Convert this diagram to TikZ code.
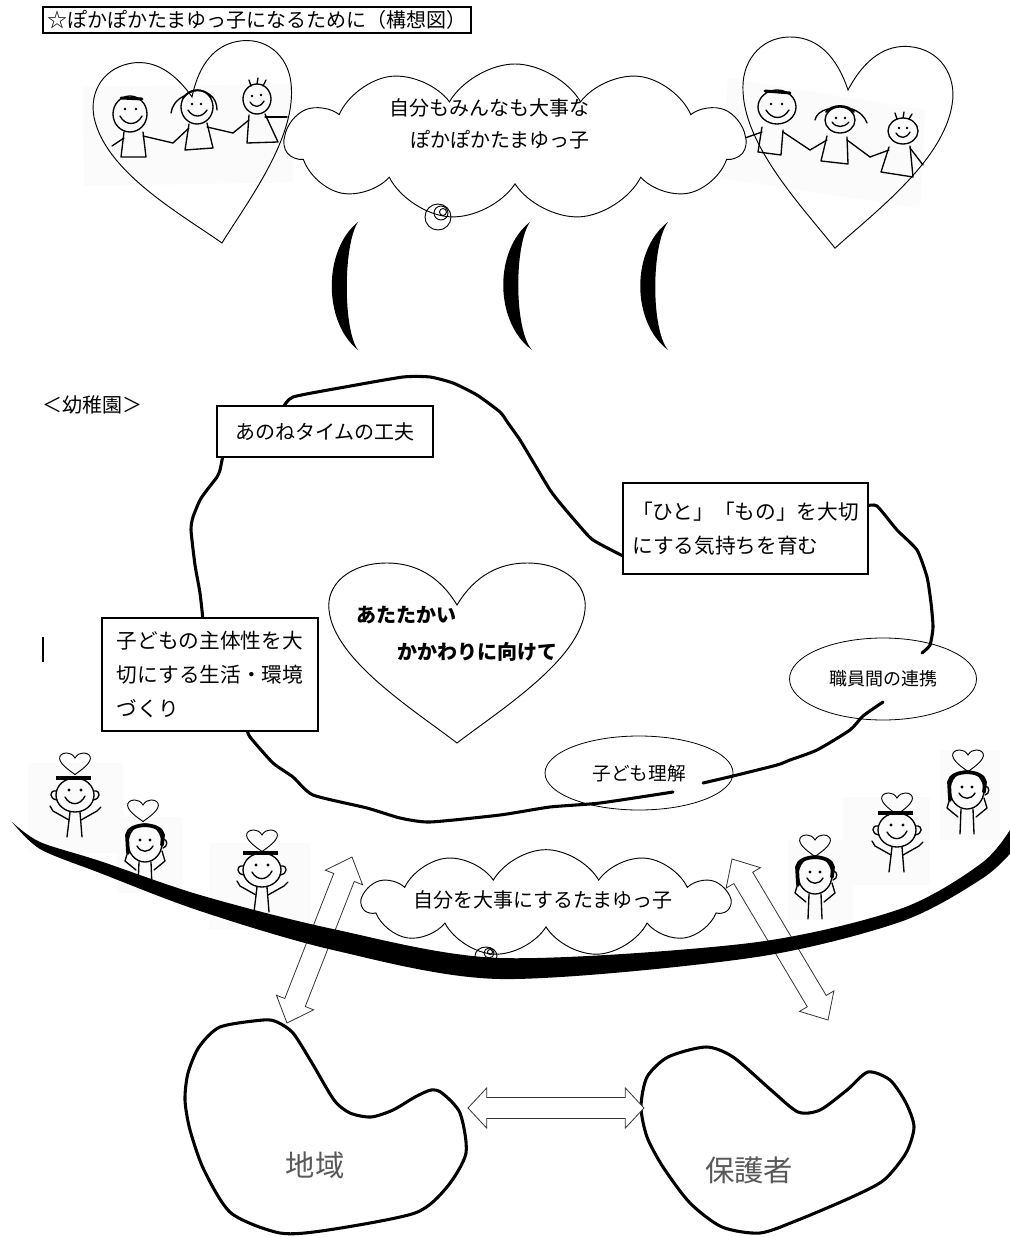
\documentclass[tikz,border=0pt]{standalone}
\usepackage{fontspec}
\setmainfont{Noto Sans CJK JP}
\usetikzlibrary{calc,shapes.symbols,shapes.geometric}

% hollow double-headed block arrow: #1,#2 tips, #3 head length, #4 head half-width, #5 shaft half-width
\newcommand\hollowdbl[5]{%
  \draw[hollowarrow] (#1)
    -- ($(#1)!#3!(#2)!#4!90:(#2)$)
    -- ($(#1)!#3!(#2)!#5!90:(#2)$)
    -- ($(#2)!#3!(#1)!#5!-90:(#1)$)
    -- ($(#2)!#3!(#1)!#4!-90:(#1)$)
    -- (#2)
    -- ($(#2)!#3!(#1)!#4!90:(#1)$)
    -- ($(#2)!#3!(#1)!#5!90:(#1)$)
    -- ($(#1)!#3!(#2)!#5!-90:(#2)$)
    -- ($(#1)!#3!(#2)!#4!-90:(#2)$)
    -- cycle;}

\tikzset{
  blobline/.style={line width=2.3pt, line join=round, line cap=round},
  boxnode/.style={draw, line width=0.8pt, fill=white, inner sep=0pt},
  ovalnode/.style={draw, ellipse, line width=0.6pt, inner sep=0pt},
  hollowarrow/.style={draw=black!80, fill=white, line width=0.6pt, line join=miter},
  heartline/.style={line width=0.7pt},
  kidline/.style={line width=1pt, line cap=round, line join=round},
  patch/.style={fill=black!1.5},
  jp/.style={font=\fontsize{15pt}{25pt}\selectfont},
  jpbox/.style={font=\fontsize{15.5pt}{25.5pt}\selectfont},
  jpsmall/.style={font=\fontsize{13.5pt}{18pt}\selectfont},
  jpbold/.style={font=\fontsize{15pt}{20pt}\selectfont\bfseries},
  jpbig/.style={font=\fontsize{22pt}{26pt}\selectfont, text=black!65},
  % heart outline, origin at the top notch, pointing down
  heartpic/.pic={
    \path[pic actions] (0,0) .. controls (18,-30) and (43,-42) .. (70,-42)
      .. controls (108,-42) and (131,-20) .. (128,5)
      .. controls (123,55) and (43,105) .. (0,138)
      .. controls (-43,105) and (-123,55) .. (-128,5)
      .. controls (-131,-20) and (-108,-42) .. (-70,-42)
      .. controls (-43,-42) and (-18,-30) .. (0,0) -- cycle;
  },
  % boy waving, origin at the centre of the head
  boywave/.pic={
    \draw[kidline] (0,0) ellipse (19 and 17);
    \draw[kidline] (-19,-4) .. controls (-26,-5) and (-26,4) .. (-18,5);
    \draw[kidline] (19,-4) .. controls (26,-5) and (26,4) .. (18,5);
    \draw[line width=2.6pt] (-19,-17) -- (16,-17);
    \fill (-6,-5) circle (1.7) (6,-5) circle (1.7);
    \draw[kidline] (-10,2) .. controls (-5,11) and (5,11) .. (10,1);
    \draw[kidline] (-5,17) -- (-8,42) (5,17) -- (7,42);
    \draw[kidline] (-6,25) -- (-22,16) -- (-25,11) (6,25) -- (22,16) -- (26,12);
  },
  % girl holding her cheeks, origin at the centre of the head
  girlhold/.pic={
    \draw[kidline] (0,0) ellipse (17 and 19);
    \draw[line width=2.8pt, line cap=round] (-17,10) -- (-18,-8) .. controls (-16,-21) and (16,-21) .. (18,-8) -- (17,2);
    \draw[kidline] (18,-4) .. controls (23,-4) and (23,4) .. (18,5);
    \fill (-5,-3) circle (1.7) (5,-3) circle (1.7);
    \draw[kidline] (-8,3) .. controls (-4,10) and (4,10) .. (8,3);
    \draw[kidline] (-17,8) -- (-20,18) -- (-9,27) (17,8) -- (20,18) -- (9,27);
    \draw[kidline] (-6,19) -- (-7,44) (6,19) -- (7,44);
  },
}

\begin{document}
\begin{tikzpicture}[x=0.75pt,y=-0.75pt]
\useasboundingbox (0,0) rectangle (1009,1237);
\fill[white] (0,0) rectangle (1009,1237);

% ---------- title ----------
\node[boxnode, jp, minimum width=321pt, minimum height=19.5pt] (title) at (257,20)
  {☆ぽかぽかたまゆっ子になるために（構想図）};

% ---------- top hearts with children holding hands ----------
\fill[patch] (83,87) -- (292,84) -- (293,182) -- (84,186) -- cycle;
\fill[patch] (728,78) -- (925,110) -- (920,208) -- (720,178) -- cycle;
\pic[draw, heartline, rotate=11.6, xscale=0.78, yscale=1.08] at (192,97) {heartpic};
\pic[draw, heartline, rotate=-4.7, xscale=0.82, yscale=1.15] at (848,90) {heartpic};

% left heart children
\begin{scope}[kidline]
  \draw (130,114) ellipse (17 and 18);
  \draw[line width=2.2pt] (121,98) -- (142,99);
  \fill (125,109) circle (1.4) (136,109) circle (1.4);
  \draw (120,116) .. controls (125,126) and (137,126) .. (142,116);
  \draw (124,132) -- (121,157) -- (146,157) -- (143,132);
  \draw (124,138) -- (112,146);
  \draw (143,136) -- (173,143);
  \draw (197,107) ellipse (16 and 17);
  \draw[line width=1.4pt] (183,98) .. controls (190,88) and (205,88) .. (211,97);
  \draw (184,96) .. controls (176,100) and (172,106) .. (171,113);
  \draw (209,94) .. controls (215,98) and (217,104) .. (217,110);
  \fill (192,104) circle (1.3) (201,104) circle (1.3);
  \draw (188,110) .. controls (193,118) and (202,118) .. (207,110);
  \draw (189,124) -- (185,150) -- (213,148) -- (207,123);
  \draw (189,128) -- (173,143);
  \draw (207,127) -- (233,133);
  \draw (257,99) ellipse (14 and 15);
  \draw (251,86) -- (249,80) (257,84) -- (258,78) (263,86) -- (266,80);
  \fill (252,96) circle (1.3) (261,95) circle (1.3);
  \draw (250,102) .. controls (254,108) and (260,108) .. (264,101);
  \draw (249,115) -- (247,143) -- (278,142) -- (265,114);
  \draw (249,120) -- (233,133);
  \draw (265,117) -- (287,117);
\end{scope}

% right heart children
\begin{scope}[kidline]
  \draw (777,107) ellipse (19 and 17);
  \draw[line width=2.2pt] (765,91) -- (790,93);
  \fill (771,104) circle (1.4) (782,104) circle (1.4);
  \draw (766,110) .. controls (772,120) and (783,120) .. (789,110);
  \draw (762,127) -- (758,152) -- (781,155) -- (783,130);
  \draw (762,132) -- (745,138);
  \draw (783,132) -- (810,150);
  \draw (840,120) ellipse (15 and 13);
  \draw[line width=1.4pt] (826,112) .. controls (832,104) and (848,104) .. (854,112);
  \draw (828,109) .. controls (820,111) and (816,115) .. (815,120);
  \draw (852,109) .. controls (860,112) and (865,117) .. (867,123);
  \fill (836,118) circle (1.3) (845,118) circle (1.3);
  \draw (832,122) .. controls (836,128) and (844,128) .. (849,122);
  \draw (827,136) -- (821,161) -- (848,164) -- (847,137);
  \draw (827,140) -- (810,150);
  \draw (847,140) -- (870,157);
  \draw (903,131) ellipse (15 and 13);
  \draw (897,119) -- (895,113) (903,118) -- (904,112) (909,119) -- (912,114);
  \fill (899,128) circle (1.3) (907,128) circle (1.3);
  \draw (896,133) .. controls (900,139) and (906,139) .. (910,132);
  \draw (889,147) -- (881,172) -- (913,177) -- (910,146);
  \draw (889,150) -- (870,157);
  \draw (910,148) -- (923,165);
\end{scope}

% ---------- top thought cloud ----------
\node[cloud, draw, fill=white, line width=0.7pt, cloud puffs=11, cloud puff arc=120,
      cloud ignores aspect, minimum width=345pt, minimum height=117pt, inner sep=0pt]
      (cloudtop) at (515,142) {};
\node[jp, anchor=west, inner sep=0pt] (cloudtopa) at (389,108) {自分もみんなも大事な};
\node[jp, anchor=west, inner sep=0pt] (cloudtopb) at (410,140) {ぽかぽかたまゆっ子};
\draw[heartline] (438,217) circle (13);
\draw[heartline] (441,213) circle (7);
\draw[heartline] (443,212) circle (3.5);

% ---------- crescents ----------
\fill (358,222) .. controls (323,250) and (323,322) .. (358,350)
      .. controls (343,330) and (343,245) .. (358,222) -- cycle;
\fill (530,222) .. controls (494,250) and (494,322) .. (532,350)
      .. controls (514,330) and (514,245) .. (530,222) -- cycle;
\fill (668,222) .. controls (631,250) and (631,322) .. (668,350)
      .. controls (651,330) and (651,245) .. (668,222) -- cycle;

% ---------- kindergarten ----------
\node[jp, anchor=west, inner sep=0pt] (kinder) at (42,405) {＜幼稚園＞};
\draw[line width=1pt] (43,637) -- (43,662);

% wavy outline of the kindergarten
\draw[blobline] plot[smooth, tension=0.35] coordinates {(283,408) (293,397) (345,387) (403,377)
  (430,377) (453,383) (477,395) (500,412) (508,423) (520,440) (535,465) (550,490) (560,503)
  (577,523) (593,540) (625,557)};
\draw[blobline] plot[smooth, tension=0.35] coordinates {(866,506) (877,506) (897,530) (917,550)
  (927,577) (931,603) (933,627) (930,645) (922,653)};
\draw[blobline] plot[smooth, tension=0.35] coordinates {(883,702) (863,716) (850,730) (817,750)
  (790,760) (777,765) (733,776) (703,783)};
\draw[blobline] plot[smooth, tension=0.35] coordinates {(673,792) (600,803) (550,807) (500,815)
  (430,822) (400,818) (367,808) (313,795) (293,777) (273,763) (250,737) (247,729)};
\draw[blobline] plot[smooth, tension=0.35] coordinates {(203,620) (200,593) (195,565) (191,530)
  (193,517) (200,500) (207,490) (217,477) (220,470) (223,455)};

\node[boxnode, jp, minimum width=162pt, minimum height=38.25pt] (anone) at (325,431.5)
  {あのねタイムの工夫};
\node[boxnode, jpbox, align=left, minimum width=183.75pt, minimum height=68.25pt] (hitomono)
  at (745.5,528.5) {「ひと」「もの」を大切\\にする気持ちを育む};
\node[boxnode, jpbox, align=left, minimum width=162pt, minimum height=84.75pt] (shutai)
  at (210,674.5) {子どもの主体性を大\\切にする生活・環境\\づくり};
\node[ovalnode, jpsmall, minimum width=140.25pt, minimum height=61.5pt] (renkei) at (883,679)
  {職員間の連携};
\node[ovalnode, jpsmall, font=\fontsize{14pt}{18pt}\selectfont, minimum width=141pt,
      minimum height=55.5pt] (rikai) at (639,773) {子ども理解};

\pic[draw, heartline] at (457,605) {heartpic};
\node[jpbold, anchor=west, inner sep=0pt] (warm1) at (356,615) {あたたかい};
\node[jpbold, anchor=west, inner sep=0pt] (warm2) at (397,652) {かかわりに向けて};

% ---------- children around the bowl ----------
\fill[patch] (28,763) rectangle (123,853);
\fill[patch] (117,817) rectangle (182,893);
\fill[patch] (210,843) rectangle (310,930);
\fill[patch] (788,840) rectangle (853,920);
\fill[patch] (843,797) rectangle (930,885);
\fill[patch] (940,750) rectangle (1000,840);

\pic at (75,795) {boywave};
\pic at (145,843) {girlhold};
\pic at (262,870) {boywave};
\pic at (815,875) {girlhold};
\pic at (897,830) {boywave};
\pic at (967,790) {girlhold};

\pic[draw, heartline, scale=0.12] at (75,758) {heartpic};
\pic[draw, heartline, scale=0.12] at (143,805) {heartpic};
\pic[draw, heartline, scale=0.12] at (262,835) {heartpic};
\pic[draw, heartline, scale=0.12] at (815,840) {heartpic};
\pic[draw, heartline, scale=0.12] at (897,798) {heartpic};
\pic[draw, heartline, scale=0.12] at (968,755) {heartpic};

% ---------- arrows ----------
\coordinate (arrLtop) at (352,857);
\coordinate (arrLbot) at (287,1023);
\coordinate (arrRtop) at (732,859);
\coordinate (arrRbot) at (828,1020);
\hollowdbl{arrLtop}{arrLbot}{16.5pt}{15pt}{8.25pt}
\hollowdbl{arrRtop}{arrRbot}{16.5pt}{15pt}{8.25pt}

% ---------- bowl ----------
\fill plot[smooth, tension=0.5] coordinates {(12,822) (40,842) (100,861) (200,895) (333,929)
    (500,958) (750,943) (900,909) (983,862) (1015,822)}
  -- plot[smooth, tension=0.5] coordinates {(1015,848) (983,878) (900,922) (750,958) (500,979)
    (333,950) (200,911) (100,873) (40,849) (12,822)} -- cycle;

% ---------- bottom thought cloud ----------
\node[cloud, draw, fill=white, line width=0.7pt, cloud puffs=11, cloud puff arc=120,
      cloud ignores aspect, minimum width=275pt, minimum height=80pt, inner sep=0pt]
      (cloudbot) at (546,903) {};
\node[jp, inner sep=0pt] (cloudbottext) at (543,900) {自分を大事にするたまゆっ子};
\draw[heartline] (486,956) ellipse (11 and 9);
\draw[heartline] (489,953) circle (5);
\draw[heartline] (490,952) circle (2.5);

% ---------- community and guardians ----------
\draw[blobline] plot[smooth cycle, tension=0.45] coordinates {(277,1022) (263,1020) (220,1027)
  (199,1047) (188,1073) (185,1100) (190,1130) (204,1170) (231,1213) (280,1233) (328,1230)
  (415,1213) (447,1187) (466,1153) (460,1113) (442,1093) (431,1090) (415,1097) (393,1110)
  (371,1117) (350,1113) (334,1100) (312,1063) (293,1033)};
\draw[blobline] plot[smooth cycle, tension=0.45] coordinates {(641,1107) (647,1077) (668,1057)
  (706,1047) (733,1057) (771,1090) (798,1112) (820,1110) (847,1090) (868,1072) (890,1080)
  (906,1103) (914,1127) (906,1153) (884,1180) (852,1197) (798,1220) (760,1233) (722,1227)
  (690,1203) (663,1167) (647,1137)};
\node[jpbig, inner sep=0pt] (chiiki) at (315,1165) {地域};
\node[jpbig, inner sep=0pt] (hogosha) at (749,1170) {保護者};

\coordinate (arrHl) at (468,1108);
\coordinate (arrHr) at (644,1108);
\hollowdbl{arrHl}{arrHr}{14pt}{15pt}{7.9pt}

\end{tikzpicture}
\end{document}
